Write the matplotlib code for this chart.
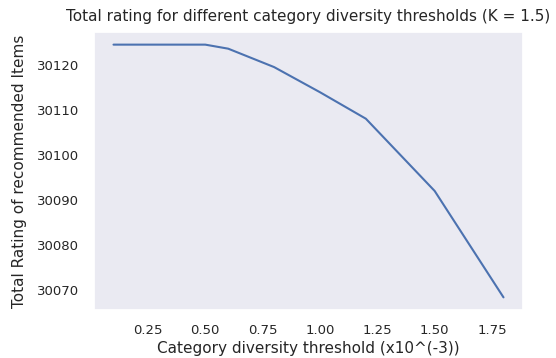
import matplotlib
matplotlib.use("Agg")
import matplotlib.pyplot as plt
import seaborn as sns

thresholds = [0.1, 0.5, 0.6, 0.8, 1.0, 1.2, 1.5, 1.8]
total_rating = [30124.6, 30124.6, 30123.7, 30119.6, 30114.0, 30108.1, 30092.0, 30068.3]

sns.set_theme(style="dark")
plt.rcParams['font.family'] = ['DejaVu Sans']

fig = plt.figure(figsize=(5.56, 3.58), dpi=100)
ax = fig.add_axes([94/556, 1 - 310/358, (523-94)/556, (310-32)/358])
ax.plot(thresholds, total_rating, color="#4C72B0", linewidth=1.5)
ax.set_title("Total rating for different category diversity thresholds (K = 1.5)", fontsize=11, pad=8)
ax.set_xlabel("Category diversity threshold (x10^(-3))", fontsize=11, labelpad=3)
ax.set_ylabel("Total Rating of recommended Items", fontsize=11, labelpad=7)
ax.tick_params(axis='x', labelsize=9.5, size=0, pad=10)
ax.tick_params(axis='y', labelsize=9.5, size=0, pad=10.5)
ax.ticklabel_format(useOffset=False, style='plain', axis='y')
fig.savefig("out.png", dpi=100)
